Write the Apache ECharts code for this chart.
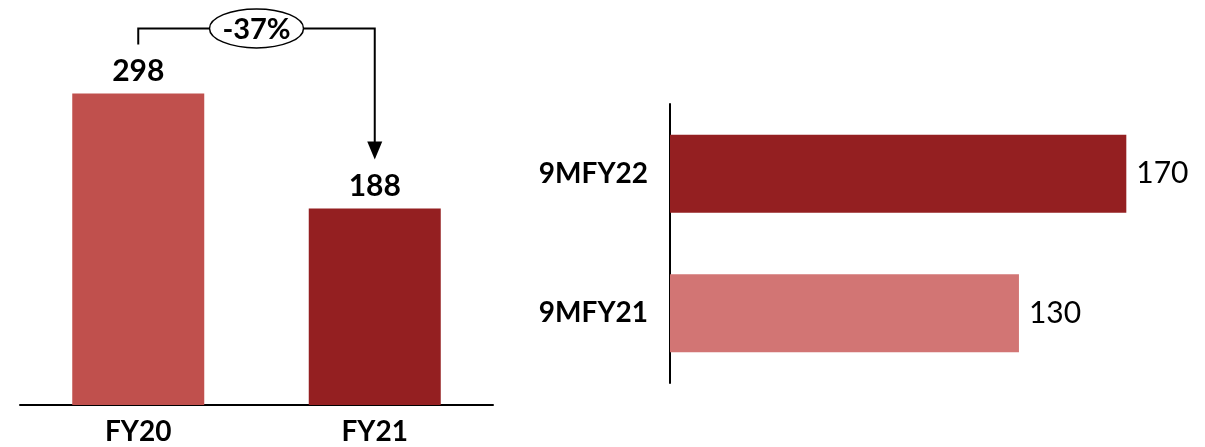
<!DOCTYPE html>
<html>
<head>
<meta charset="utf-8">
<script src="https://cdn.jsdelivr.net/npm/echarts@6/dist/echarts.min.js"></script>
<style>
html,body{margin:0;padding:0;background:#fff;}
#chart{width:1205px;height:447px;}
</style>
</head>
<body>
<div id="chart"></div>
<script>
const leftCategories = ['FY20', 'FY21'];
const leftValues = [298, 188];
const leftColors = ['#C0504D', '#941F21'];
const rightCategories = ['9MFY21', '9MFY22'];
const rightValues = [130, 170];
const rightColors = ['#D27574', '#941F21'];
const changeLabel = '-37%';

const FONT = 'Lato, "Open Sans", sans-serif';
const chart = echarts.init(document.getElementById('chart'), null, {renderer: 'canvas'});

const option = {
  animation: false,
  backgroundColor: '#ffffff',
  grid: [
    {left: 20, right: 712, top: 39, bottom: 42},
    {left: 670, right: 25, top: 104, bottom: 64}
  ],
  xAxis: [
    {
      gridIndex: 0, type: 'category', data: leftCategories,
      axisLine: {show: true, lineStyle: {color: '#000', width: 2}},
      axisTick: {show: false},
      axisLabel: {color: '#000', fontFamily: FONT, fontWeight: 'bold', fontSize: 28, margin: 13}
    },
    {
      gridIndex: 1, type: 'value', min: 0, max: 190,
      show: false
    }
  ],
  yAxis: [
    {gridIndex: 0, type: 'value', min: 0, max: 350, show: false},
    {
      gridIndex: 1, type: 'category', data: rightCategories,
      axisLine: {show: true, lineStyle: {color: '#000', width: 2}},
      axisTick: {show: false},
      axisLabel: {color: '#000', fontFamily: FONT, fontWeight: 'bold', fontSize: 28, margin: 22}
    }
  ],
  series: [
    {
      type: 'bar', xAxisIndex: 0, yAxisIndex: 0,
      barWidth: 132,
      data: leftValues.map((v, i) => ({value: v, itemStyle: {color: leftColors[i]}})),
      label: {show: true, position: 'top', distance: 7, color: '#000', fontFamily: FONT, fontWeight: 'bold', fontSize: 30}
    },
    {
      type: 'bar', xAxisIndex: 1, yAxisIndex: 1,
      barWidth: 78,
      data: rightValues.map((v, i) => ({value: v, itemStyle: {color: rightColors[i]}})),
      label: {show: true, position: 'right', distance: 10, color: '#000', fontFamily: FONT, fontWeight: 'normal', fontSize: 30}
    }
  ]
};
chart.setOption(option);

// annotation bracket computed from the chart's own scales
const p0 = chart.convertToPixel({gridIndex: 0}, [leftCategories[0], leftValues[0]]);
const p1 = chart.convertToPixel({gridIndex: 0}, [leftCategories[1], leftValues[1]]);
const startY = p0[1] - 49;
const topY = p0[1] - 65;
const tipY = p1[1] - 49;
const midX = (p0[0] + p1[0]) / 2;

chart.setOption({
  graphic: [
    {
      type: 'polyline', z: 10,
      shape: {points: [[p0[0], startY], [p0[0], topY], [p1[0], topY], [p1[0], tipY - 16]]},
      style: {stroke: '#000', lineWidth: 2, fill: null}
    },
    {
      type: 'polygon', z: 10,
      shape: {points: [[p1[0] - 7.5, tipY - 18], [p1[0] + 7.5, tipY - 18], [p1[0], tipY]]},
      style: {fill: '#000'}
    },
    {
      type: 'ellipse', z: 11,
      shape: {cx: midX, cy: topY, rx: 47, ry: 19.5},
      style: {fill: '#fff', stroke: '#000', lineWidth: 1.5}
    },
    {
      type: 'text', z: 12,
      x: midX, y: topY + 1,
      style: {text: changeLabel, fill: '#000', font: 'bold 29px ' + FONT, align: 'center', verticalAlign: 'middle'}
    }
  ]
});
</script>
</body>
</html>
